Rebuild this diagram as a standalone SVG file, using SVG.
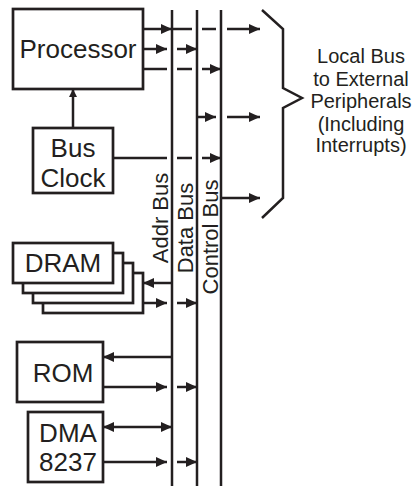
<svg xmlns="http://www.w3.org/2000/svg" width="414" height="486" viewBox="0 0 414 486">
<style>
.box{fill:#fff;stroke:#231f20;stroke-width:2.7}
.ln{fill:none;stroke:#231f20;stroke-width:2.5}
.bus{fill:none;stroke:#231f20;stroke-width:2.5}
text{font-family:"Liberation Sans",Arial,sans-serif;fill:#231f20}
.lbl{font-size:26px;text-anchor:middle}
.bl{font-size:22px;text-anchor:middle}
.rt{font-size:20px;text-anchor:middle}
.a{marker-end:url(#ah)}
.b{marker-start:url(#ah);marker-end:url(#ah)}
.s{marker-start:url(#ah)}
</style>
<defs>
<marker id="ah" markerUnits="userSpaceOnUse" markerWidth="12" markerHeight="11" refX="11" refY="5" orient="auto-start-reverse">
<path d="M0,0 L11,5 L0,10 z" fill="#231f20"/>
</marker>
<marker id="ahs" markerUnits="userSpaceOnUse" markerWidth="9" markerHeight="9" refX="8" refY="4" orient="auto">
<path d="M0,0 L8,4 L0,8 z" fill="#231f20"/>
</marker>
</defs>

<g id="buses">
<line class="bus" x1="172" y1="10" x2="172" y2="486"/>
<line class="bus" x1="197" y1="10" x2="197" y2="486"/>
<line class="bus" x1="221" y1="10" x2="221" y2="486"/>
<text class="bl" transform="translate(168,218) rotate(-90)">Addr Bus</text>
<text class="bl" transform="translate(193,228) rotate(-90)">Data Bus</text>
<text class="bl" transform="translate(218,237) rotate(-90)">Control Bus</text>
</g>

<g id="processor">
<rect class="box" x="13" y="9" width="130" height="80"/>
<text class="lbl" x="78" y="58">Processor</text>
</g>

<g id="busclock">
<rect class="box" x="33" y="128" width="80" height="65"/>
<text class="lbl" x="73" y="157">Bus</text>
<text class="lbl" x="73" y="187">Clock</text>
</g>

<g id="dram">
<rect class="box" x="43" y="273" width="100" height="40"/>
<rect class="box" x="33" y="263" width="100" height="40"/>
<rect class="box" x="23" y="253" width="100" height="40"/>
<rect class="box" x="13" y="243" width="100" height="40"/>
<text class="lbl" x="63" y="272">DRAM</text>
</g>

<g id="rom">
<rect class="box" x="17" y="342" width="86" height="60"/>
<text class="lbl" x="63" y="382">ROM</text>
</g>

<g id="dma">
<rect class="box" x="28" y="412" width="75" height="70"/>
<text class="lbl" x="68" y="442">DMA</text>
<text class="lbl" x="68" y="471">8237</text>
</g>

<g id="connectors">
<line class="ln a" x1="143" y1="29" x2="172" y2="29"/>
<line class="ln" x1="172" y1="29" x2="192" y2="29"/>
<line class="ln" x1="202" y1="29" x2="216" y2="29"/>
<line class="ln a" x1="227" y1="29" x2="260" y2="29"/>
<line class="ln s" x1="167" y1="49" x2="143" y2="49"/>
<line class="ln a" x1="177" y1="49" x2="197" y2="49"/>
<line class="ln" x1="143" y1="69" x2="167" y2="69"/>
<line class="ln" x1="177" y1="69" x2="192" y2="69"/>
<line class="ln a" x1="202" y1="69" x2="221" y2="69"/>
<line class="ln s" x1="216" y1="117" x2="197" y2="117"/>
<line class="ln a" x1="227" y1="117" x2="260" y2="117"/>
<line class="ln" x1="73" y1="128" x2="73" y2="89" marker-end="url(#ahs)"/>
<line class="ln" x1="113" y1="158" x2="167" y2="158"/>
<line class="ln" x1="177" y1="158" x2="192" y2="158"/>
<line class="ln a" x1="202" y1="158" x2="221" y2="158"/>
<line class="ln a" x1="221" y1="198" x2="260" y2="198"/>
<line class="ln a" x1="172" y1="283" x2="143" y2="283"/>
<line class="ln s" x1="167" y1="303" x2="143" y2="303"/>
<line class="ln a" x1="177" y1="303" x2="197" y2="303"/>
<line class="ln a" x1="172" y1="357" x2="103" y2="357"/>
<line class="ln s" x1="167" y1="387" x2="103" y2="387"/>
<line class="ln a" x1="177" y1="387" x2="197" y2="387"/>
<line class="ln b" x1="103" y1="427" x2="172" y2="427"/>
<line class="ln s" x1="167" y1="462" x2="103" y2="462"/>
<line class="ln a" x1="177" y1="462" x2="197" y2="462"/>
</g>

<g id="peripherals">
<path class="ln" d="M262,10 L283,29 L283,88 L302,98 L283,108 L283,198 L262,218"/>
<text class="rt" x="361" y="63">Local Bus</text>
<text class="rt" x="361" y="85.5">to External</text>
<text class="rt" x="361" y="108">Peripherals</text>
<text class="rt" x="361" y="130.5">(Including</text>
<text class="rt" x="361" y="152">Interrupts)</text>
</g>
</svg>
